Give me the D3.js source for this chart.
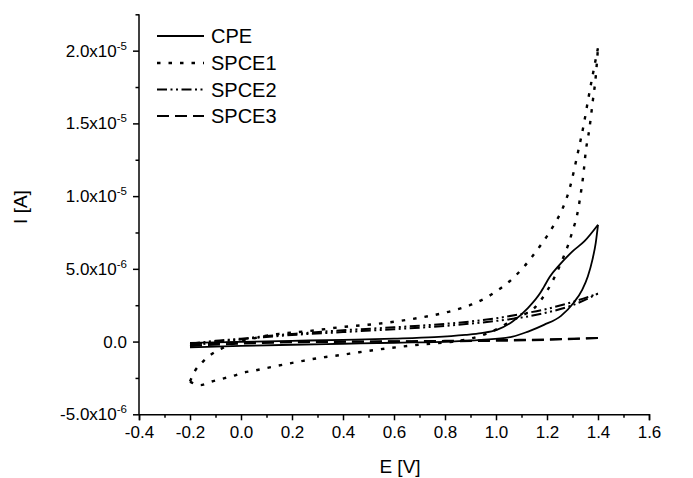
<!DOCTYPE html>
<html><head><meta charset="utf-8">
<script src="https://cdn.jsdelivr.net/npm/d3@7/dist/d3.min.js"></script>
<style>body{margin:0;background:#fff}svg{display:block}text{font-family:"Liberation Sans",Arial,sans-serif;fill:#000}</style>
</head><body><svg id="chart" width="693" height="478"></svg>
<script>
// Values: E in V, I in units of 1e-6 A
const seriesNames = ["CPE", "SPCE1", "SPCE2", "SPCE3"];
const xTickValues = [-0.4, -0.2, 0.0, 0.2, 0.4, 0.6, 0.8, 1.0, 1.2, 1.4, 1.6];
const xTickLabels = ["-0.4", "-0.2", "0.0", "0.2", "0.4", "0.6", "0.8", "1.0", "1.2", "1.4", "1.6"];
const yTickValues = [-5, 0, 5, 10, 15, 20];
const yTickMantissa = ["-5.0x10", "0.0", "5.0x10", "1.0x10", "1.5x10", "2.0x10"];
const yTickExponent = ["-6", "", "-6", "-5", "-5", "-5"];

const cpeForward = [[-0.2,-0.4],[0.0,-0.3],[0.2,-0.22],[0.4,-0.15],[0.6,-0.08],[0.82,0.0],[0.942,0.12],[1.065,0.34],[1.126,0.69],[1.188,1.15],[1.255,1.77],[1.303,2.64],[1.338,3.56],[1.36,4.47],[1.378,5.62],[1.391,6.77],[1.4,8.03]];
const cpeReverse = [[1.4,8.03],[1.347,6.9],[1.3,6.2],[1.249,5.27],[1.211,4.45],[1.188,3.76],[1.174,3.35],[1.126,2.32],[1.065,1.38],[1.003,0.8],[0.942,0.58],[0.88,0.46],[0.758,0.3],[0.6,0.2],[0.4,0.12],[0.2,0.05],[0.0,-0.02],[-0.2,-0.09]];

const spce1Forward = [[-0.2,-2.75],[-0.18,-2.0],[-0.153,-1.44],[-0.116,-0.87],[-0.079,-0.5],[-0.04,-0.2],[0.0,0.05],[0.05,0.22],[0.094,0.39],[0.149,0.53],[0.223,0.65],[0.303,0.8],[0.395,1.0],[0.481,1.13],[0.573,1.3],[0.659,1.52],[0.745,1.78],[0.825,2.1],[0.905,2.55],[0.96,3.0],[1.0,3.45],[1.04,3.95],[1.075,4.5],[1.11,5.15],[1.14,5.8],[1.17,6.5],[1.2,7.25],[1.23,8.1],[1.26,9.1],[1.29,10.6],[1.32,12.9],[1.345,15.0],[1.362,16.7],[1.38,18.4],[1.4,20.2]];
const spce1Reverse = [[1.4,20.2],[1.39,18.0],[1.38,16.6],[1.366,14.6],[1.353,13.2],[1.342,11.4],[1.33,9.9],[1.318,8.7],[1.3,7.6],[1.282,6.6],[1.262,5.7],[1.241,4.85],[1.22,4.1],[1.199,3.45],[1.176,2.85],[1.15,2.3],[1.11,1.85],[1.065,1.49],[1.02,1.0],[0.97,0.6],[0.9,0.2],[0.82,-0.03],[0.72,-0.18],[0.635,-0.34],[0.549,-0.52],[0.463,-0.73],[0.377,-0.96],[0.327,-1.07],[0.278,-1.21],[0.227,-1.38],[0.182,-1.53],[0.141,-1.67],[0.097,-1.83],[0.055,-1.99],[0.01,-2.13],[-0.031,-2.36],[-0.076,-2.57],[-0.116,-2.75],[-0.161,-3.0],[-0.2,-2.75]];

const spce2Forward = [[-0.2,-0.15],[-0.1,0.05],[0.0,0.2],[0.1,0.38],[0.2,0.52],[0.4,0.78],[0.6,0.98],[0.8,1.22],[0.9,1.38],[1.0,1.6],[1.1,1.9],[1.2,2.25],[1.3,2.72],[1.4,3.3]];
const spce2Reverse = [[1.4,3.3],[1.3,2.5],[1.2,2.0],[1.1,1.65],[1.0,1.42],[0.8,1.08],[0.6,0.85],[0.4,0.65],[0.2,0.45],[0.0,0.15],[-0.1,-0.05],[-0.2,-0.3]];

const spce3Forward = [[-0.2,-0.2],[0.0,-0.05],[0.4,0.0],[0.8,0.05],[1.0,0.1],[1.2,0.15],[1.4,0.25]];
const spce3Reverse = [[1.4,0.25],[1.2,0.12],[1.0,0.05],[0.6,0.0],[0.2,-0.05],[-0.2,-0.3]];

const seriesBranches = [[cpeForward, cpeReverse],[spce1Forward, spce1Reverse],[spce2Forward, spce2Reverse],[spce3Forward, spce3Reverse]];
const seriesDash = [null, "3.5,8", "10,3.5,2,3.5,2,3.5", "12,6"];
const seriesWidth = [1.8, 2.4, 2, 2];

const svg = d3.select("#chart");
const x = d3.scaleLinear().domain([-0.4, 1.6]).range([139, 649]);
const y = d3.scaleLinear().domain([-5, 22.5]).range([414.3, 14.3]);

// curves
const line = d3.line().x(d => x(d[0])).y(d => y(d[1])).curve(d3.curveMonotoneX);
const g = svg.append("g");
seriesBranches.forEach((branches, i) => {
  branches.forEach(b => {
    const pts = b.slice().sort((a, c) => a[0] - c[0]);
    g.append("path").attr("d", line(pts)).attr("fill", "none")
      .attr("stroke", "#000").attr("stroke-width", seriesWidth[i])
      .attr("stroke-dasharray", seriesDash[i]);
  });
});

// x axis
const xAxis = d3.axisBottom(x).tickValues(xTickValues).tickFormat((d, i) => xTickLabels[i]).tickSize(6).tickPadding(6);
const xMinor = d3.axisBottom(x).tickValues(d3.range(-0.3, 1.6, 0.2)).tickFormat("").tickSize(3.5);
const gx = svg.append("g").attr("transform", `translate(0,${y(-5)})`).call(xAxis);
svg.append("g").attr("transform", `translate(0,${y(-5)})`).call(xMinor).select(".domain").remove();
gx.selectAll("text").style("font-size", "17px");

// y axis
const yAxis = d3.axisLeft(y).tickValues(yTickValues).tickFormat("").tickSize(6);
const yMinor = d3.axisLeft(y).tickValues([-2.5, 2.5, 7.5, 12.5, 17.5, 22.5]).tickFormat("").tickSize(3.5);
const gy = svg.append("g").attr("transform", `translate(${x(-0.4)},0)`).call(yAxis);
svg.append("g").attr("transform", `translate(${x(-0.4)},0)`).call(yMinor).select(".domain").remove();
gy.select(".domain").attr("d", `M0,${y(22.5)}V${y(-5)}`);
svg.selectAll(".domain, .tick line").attr("stroke", "#000").attr("stroke-width", 1.5);

yTickValues.forEach((v, i) => {
  const t = svg.append("text").attr("x", x(-0.4) - 12).attr("y", y(v) + 6)
    .attr("text-anchor", "end").style("font-size", "17px");
  t.append("tspan").text(yTickMantissa[i]);
  if (yTickExponent[i]) t.append("tspan").attr("dy", -7).style("font-size", "11.5px").text(yTickExponent[i]);
});

// axis titles
svg.append("text").attr("x", 400).attr("y", 473).attr("text-anchor", "middle")
  .style("font-size", "19px").text("E [V]");
svg.append("text").attr("transform", `translate(27,207) rotate(-90)`).attr("text-anchor", "middle")
  .style("font-size", "19px").text("I [A]");

// legend
const legY = [36, 63, 89.5, 116];
seriesNames.forEach((name, i) => {
  svg.append("line").attr("x1", 157).attr("x2", 204).attr("y1", legY[i]).attr("y2", legY[i])
    .attr("stroke", "#000").attr("stroke-width", seriesWidth[i]).attr("stroke-dasharray", seriesDash[i]);
  svg.append("text").attr("x", 211).attr("y", legY[i] + 7).style("font-size", "20px").text(name);
});
</script></body></html>
